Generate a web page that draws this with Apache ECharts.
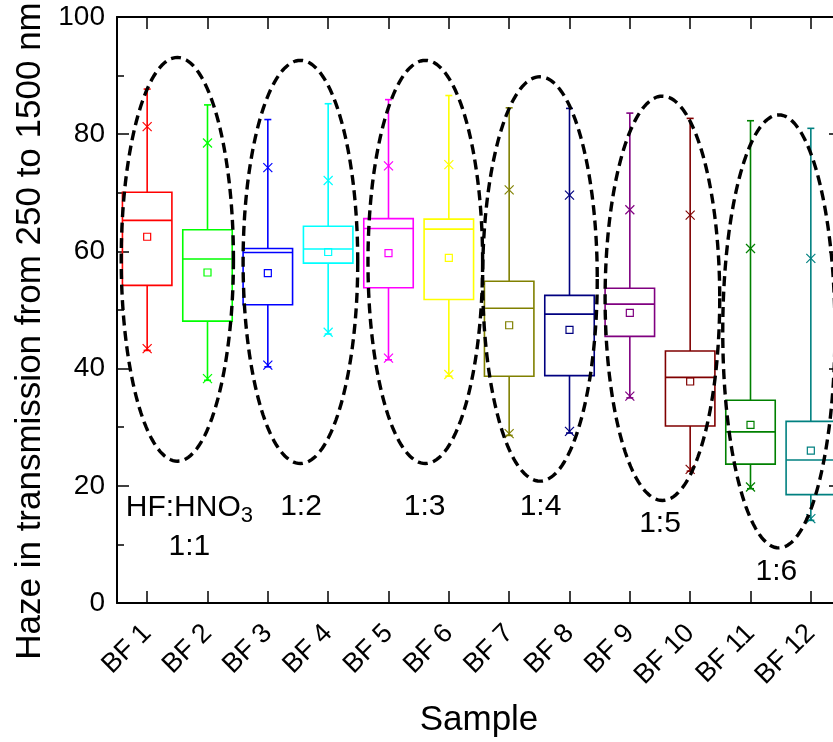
<!DOCTYPE html>
<html>
<head>
<meta charset="utf-8">
<script src="https://cdn.jsdelivr.net/npm/echarts@6/dist/echarts.min.js"></script>
<style>
  html, body { margin: 0; padding: 0; background: #fff; }
  #chart { width: 833px; height: 742px; }
</style>
</head>
<body>
<div id="chart"></div>
<script>
const categories = ['BF 1', 'BF 2', 'BF 3', 'BF 4', 'BF 5', 'BF 6', 'BF 7', 'BF 8', 'BF 9', 'BF 10', 'BF 11', 'BF 12'];
const whiskerLow = [43.1, 38.0, 40.3, 45.9, 41.5, 38.7, 28.6, 29.0, 35.0, 22.5, 19.5, 14.1];
const q1 = [54.2, 48.1, 50.9, 58.0, 53.8, 51.8, 38.7, 38.8, 45.5, 30.2, 23.7, 18.5];
const median = [65.3, 58.7, 59.8, 60.4, 63.9, 63.8, 50.3, 49.3, 51.0, 38.5, 29.2, 24.4];
const q3 = [70.1, 63.7, 60.5, 64.3, 65.6, 65.5, 54.9, 52.5, 53.7, 43.0, 34.6, 31.0];
const whiskerHigh = [87.7, 85.0, 82.5, 85.2, 85.9, 86.6, 84.5, 84.4, 83.6, 82.7, 82.3, 81.0];
const means = [62.5, 56.4, 56.3, 59.9, 59.7, 58.9, 47.4, 46.6, 49.5, 37.8, 30.4, 26.0];
const upperX = [81.3, 78.5, 74.3, 72.1, 74.6, 74.8, 70.5, 69.6, 67.1, 66.2, 60.5, 58.8];
const lowerX = [43.4, 38.3, 40.6, 46.2, 41.8, 39.0, 28.9, 29.3, 35.3, 22.8, 19.8, 14.4];

// dashed groups, x in category units (BF 1 = 0), y in axis units
const groupCenterX = [0.5, 2.54, 4.61, 6.51, 8.54, 10.47];
const groupCenterY = [58.65, 58.2, 58.2, 55.3, 52.0, 46.35];
const groupHalfW = [0.93, 0.95, 0.95, 0.95, 0.95, 0.93];
const groupHalfH = [34.45, 34.4, 34.4, 34.5, 34.5, 36.95];
const groupLabels = ['{a|HF:HNO}{s|3}\n{a|1:1}', '1:2', '1:3', '1:4', '1:5', '1:6'];
const labelX = [0.7, 2.55, 4.6, 6.52, 8.5, 10.43];
const labelY = [13.0, 16.35, 16.35, 16.35, 13.6, 5.3];

const yTicks = [0, 20, 40, 60, 80, 100];

const boxColors = ['#ff0000', '#00ff00', '#0000ff', '#00ffff', '#ff00ff', '#ffff00',
  '#808000', '#000080', '#800080', '#800000', '#008000', '#008080'];
const FONT = '"Liberation Sans", Arial, sans-serif';

const chart = echarts.init(document.getElementById('chart'));

const boxData = categories.map((c, i) => [i, whiskerLow[i], q1[i], median[i], q3[i], whiskerHigh[i], means[i], upperX[i], lowerX[i]]);
const groupData = groupCenterX.map((x, i) => [x, groupCenterY[i], groupHalfW[i], groupHalfH[i], i]);
const labelData = labelX.map((x, i) => [x, labelY[i], i]);

function seg(x1, y1, x2, y2, style) {
  return { type: 'line', shape: { x1, y1, x2, y2 }, style };
}

function cross(x, y, s, style) {
  return [seg(x - s, y - s, x + s, y + s, style), seg(x - s, y + s, x + s, y - s, style)];
}

function renderBox(params, api) {
  const i = api.value(0);
  const color = boxColors[i];
  const band = api.size([1, 0])[0];
  const w = band * 0.82;
  const pt = k => api.coord([i, api.value(k)]);
  const low = pt(1), b1 = pt(2), med = pt(3), b3 = pt(4), high = pt(5), mean = pt(6), ux = pt(7), lx = pt(8);
  const cx = low[0];
  const st = { stroke: color, lineWidth: 1.6, fill: 'none' };
  const cap = 3.5;
  const children = [
    { type: 'rect', shape: { x: cx - w / 2, y: b3[1], width: w, height: b1[1] - b3[1] }, style: st },
    seg(cx - w / 2, med[1], cx + w / 2, med[1], st),
    seg(cx, b3[1], cx, high[1], st),
    seg(cx, b1[1], cx, low[1], st),
    seg(cx - cap, high[1], cx + cap, high[1], st),
    seg(cx - cap, low[1], cx + cap, low[1], st),
    { type: 'rect', shape: { x: cx - 3.5, y: mean[1] - 3.5, width: 7, height: 7 }, style: { stroke: color, lineWidth: 1.2, fill: 'none' } }
  ].concat(cross(cx, ux[1], 4.5, { stroke: color, lineWidth: 1.2 }))
   .concat(cross(cx, lx[1], 4.5, { stroke: color, lineWidth: 1.2 }));
  return { type: 'group', children };
}

function renderGroup(params, api) {
  const c = api.coord([api.value(0), api.value(1)]);
  const r = api.size([api.value(2), api.value(3)]);
  const points = [];
  for (let k = 0; k < 160; k++) {
    const t = (k / 160) * Math.PI * 2;
    points.push([c[0] + r[0] * Math.cos(t), c[1] + r[1] * Math.sin(t)]);
  }
  return {
    type: 'polygon',
    shape: { points },
    style: { fill: 'none', stroke: '#000', lineWidth: 3.4, lineDash: [10, 5.5] }
  };
}

function renderLabel(params, api) {
  const p = api.coord([api.value(0), api.value(1)]);
  return {
    type: 'text',
    x: p[0],
    y: p[1],
    style: {
      text: groupLabels[api.value(2)],
      fontSize: 30,
      fontFamily: FONT,
      fill: '#000',
      align: 'center',
      verticalAlign: 'middle',
      lineHeight: 39,
      rich: {
        a: { fontSize: 30, fontFamily: FONT, lineHeight: 39, fill: '#000' },
        s: { fontSize: 22, fontFamily: FONT, lineHeight: 22, verticalAlign: 'bottom', fill: '#000' }
      }
    }
  };
}

const axisLine = { show: true, onZero: false, lineStyle: { color: '#000', width: 2 } };
const tick = { show: true, inside: true, length: 12, lineStyle: { color: '#000', width: 1.5 } };

chart.setOption({
  animation: false,
  backgroundColor: '#fff',
  textStyle: { fontFamily: FONT, color: '#000' },
  grid: { left: 117, top: 17, width: 724, height: 586, containLabel: false, outerBoundsMode: 'none' },
  xAxis: [
    {
      type: 'category',
      data: categories,
      position: 'bottom',
      boundaryGap: true,
      axisLine,
      axisTick: Object.assign({ alignWithLabel: true }, tick),
      axisLabel: { rotate: 45, fontSize: 27, color: '#000', fontFamily: FONT, margin: 26, interval: 0 },
      splitLine: { show: false },
      name: 'Sample',
      nameLocation: 'middle',
      nameGap: 100,
      nameTextStyle: { fontSize: 35, color: '#000', fontFamily: FONT }
    },
    {
      type: 'category',
      data: categories,
      position: 'top',
      boundaryGap: true,
      axisLine,
      axisTick: Object.assign({ alignWithLabel: true }, tick),
      axisLabel: { show: false },
      splitLine: { show: false }
    },
    {
      type: 'value',
      min: -0.5,
      max: 11.5,
      show: false,
      axisLine: { onZero: false }
    }
  ],
  yAxis: [
    {
      type: 'value',
      min: yTicks[0],
      max: yTicks[yTicks.length - 1],
      interval: 20,
      position: 'left',
      axisLine,
      axisTick: tick,
      minorTick: { show: true, splitNumber: 2, length: 7, lineStyle: { color: '#000', width: 1.5 } },
      axisLabel: { fontSize: 28, color: '#000', fontFamily: FONT, margin: 12 },
      splitLine: { show: false },
      name: 'Haze in transmission from 250 to 1500 nm',
      nameLocation: 'middle',
      nameGap: 66,
      nameTextStyle: { fontSize: 35, color: '#000', fontFamily: FONT, padding: [0, 42, 0, 0] }
    },
    {
      type: 'value',
      min: yTicks[0],
      max: yTicks[yTicks.length - 1],
      interval: 20,
      position: 'right',
      axisLine,
      axisTick: tick,
      minorTick: { show: true, splitNumber: 2, length: 7, lineStyle: { color: '#000', width: 1.5 } },
      axisLabel: { show: false },
      splitLine: { show: false }
    }
  ],
  series: [
    {
      type: 'custom',
      name: 'boxes',
      xAxisIndex: 0,
      yAxisIndex: 0,
      data: boxData,
      renderItem: renderBox,
      encode: { x: 0, y: [1, 5] },
      silent: true
    },
    {
      type: 'custom',
      name: 'groups',
      xAxisIndex: 2,
      yAxisIndex: 0,
      data: groupData,
      renderItem: renderGroup,
      encode: { x: 0, y: 1 },
      silent: true,
      z: 5
    },
    {
      type: 'custom',
      name: 'labels',
      xAxisIndex: 2,
      yAxisIndex: 0,
      data: labelData,
      renderItem: renderLabel,
      encode: { x: 0, y: 1 },
      silent: true,
      z: 6
    }
  ]
});
</script>
</body>
</html>
